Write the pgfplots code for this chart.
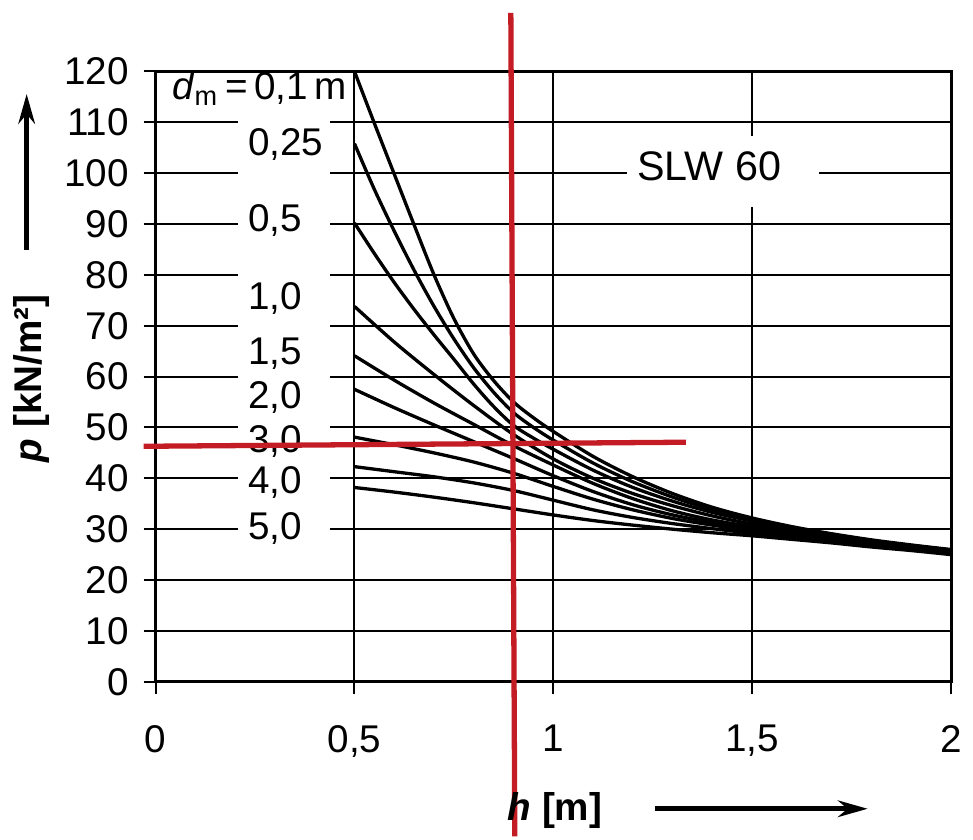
\documentclass[border=0pt]{standalone}
\usepackage{fontspec}
\setmainfont{Liberation Sans}
\usepackage{pgfplots}
\pgfplotsset{compat=1.18}
\usetikzlibrary{arrows.meta}
\definecolor{redline}{RGB}{196,28,36}
\newcommand{\lbl}{\fontsize{11.7}{14}\selectfont}
\pgfplotsset{curve/.style={black, no markers, line width=1pt, smooth, tension=0.5}}

\begin{document}
\begin{tikzpicture}
\begin{axis}[
  scale only axis, width=240.9pt, height=184.8pt,
  xmin=0, xmax=2, ymin=0, ymax=120,
  xtick={0,0.5,1,1.5,2}, xticklabels={0,{0,5},1,{1,5},2},
  ytick={0,10,...,120},
  grid=major, major grid style={black, line width=0.6pt},
  axis line style={black, line width=1pt},
  tick pos=left, tick align=outside, major tick length=3.6pt,
  tick style={black, line width=0.6pt},
  ticklabel style={font=\lbl},
  xticklabel style={yshift=-6pt},
  yticklabel style={xshift=-1pt},
  /pgf/number format/assume math mode=true,
  clip=false,
  xlabel={\textbf{\textit{h} [m]}},
  ylabel={\textbf{\textit{p} [kN/m²]}},
  xlabel style={at={(axis description cs:0.502,-0.211)}, anchor=center, font=\lbl},
  ylabel style={at={(axis description cs:-0.156,0.497)}, anchor=center, font=\lbl},
]
% d_m = 0,1
\addplot[curve] coordinates {(0.5,120) (0.55,109.8) (0.6,99.8) (0.65,89.8) (0.7,80) (0.75,71.4) (0.8,64.4) (0.85,59.2) (0.9,55) (0.95,51.9) (1.0,49.2) (1.1,44.3) (1.2,40.3) (1.3,37) (1.4,34.3) (1.5,32.2) (1.6,30.5) (1.7,29.1) (1.8,27.9) (1.9,26.9) (2.0,26.0)};
% 0,25
\addplot[curve] coordinates {(0.5,105.8) (0.55,96.8) (0.6,88.6) (0.65,80.9) (0.7,73.8) (0.75,67.4) (0.8,61.7) (0.85,56.9) (0.9,52.9) (0.95,50) (1.0,47.5) (1.1,43) (1.2,39.3) (1.3,36.3) (1.4,33.8) (1.5,31.9) (1.6,30.3) (1.7,29) (1.8,27.8) (1.9,26.8) (2.0,25.9)};
% 0,5
\addplot[curve] coordinates {(0.5,90.2) (0.55,84.2) (0.6,78.5) (0.65,73.2) (0.7,68.2) (0.75,63.4) (0.8,58.5) (0.85,54.1) (0.9,50.4) (0.95,47.9) (1.0,45.7) (1.1,41.6) (1.2,38.2) (1.3,35.5) (1.4,33.3) (1.5,31.6) (1.6,30.1) (1.7,28.8) (1.8,27.7) (1.9,26.7) (2.0,25.8)};
% 1,0
\addplot[curve] coordinates {(0.5,73.8) (0.6,66.8) (0.7,60.4) (0.8,54.3) (0.9,48.6) (1.0,43.8) (1.1,40) (1.2,37) (1.3,34.6) (1.4,32.6) (1.5,31) (1.6,29.7) (1.7,28.5) (1.8,27.4) (1.9,26.5) (2.0,25.6)};
% 1,5
\addplot[curve] coordinates {(0.5,64.1) (0.6,59.3) (0.7,54.8) (0.8,50.6) (0.9,46.4) (1.0,42.6) (1.1,39) (1.2,36) (1.3,33.6) (1.4,31.8) (1.5,30.5) (1.6,29.4) (1.7,28.3) (1.8,27.3) (1.9,26.4) (2.0,25.5)};
% 2,0
\addplot[curve] coordinates {(0.5,57.5) (0.6,53.9) (0.7,50.5) (0.8,47.2) (0.9,43.9) (1.0,40.5) (1.1,37.4) (1.2,34.8) (1.3,32.8) (1.4,31.3) (1.5,30.1) (1.6,29.1) (1.7,28.1) (1.8,27.2) (1.9,26.3) (2.0,25.4)};
% 3,0
\addplot[curve] coordinates {(0.5,48.1) (0.6,46.6) (0.7,45) (0.8,43.2) (0.9,41) (1.0,38.4) (1.1,35.9) (1.2,33.8) (1.3,32.1) (1.4,30.8) (1.5,29.7) (1.6,28.8) (1.7,27.9) (1.8,27) (1.9,26.2) (2.0,25.3)};
% 4,0
\addplot[curve] coordinates {(0.5,42.3) (0.6,41.3) (0.7,40.3) (0.8,39.1) (0.9,37.6) (1.0,35.7) (1.1,33.8) (1.2,32.3) (1.3,31.1) (1.4,30.1) (1.5,29.2) (1.6,28.4) (1.7,27.6) (1.8,26.8) (1.9,26) (2.0,25.2)};
% 5,0
\addplot[curve] coordinates {(0.5,38.2) (0.6,37.3) (0.7,36.3) (0.8,35.2) (0.9,34) (1.0,32.8) (1.1,31.7) (1.2,30.8) (1.3,30) (1.4,29.3) (1.5,28.7) (1.6,28) (1.7,27.3) (1.8,26.5) (1.9,25.8) (2.0,25.0)};

% white patches behind the labels
\fill[white] (axis cs:0.206,25) rectangle (axis cs:0.438,113);
\fill[white] (axis cs:1.184,93.4) rectangle (axis cs:1.667,107.4);

\begin{scope}[every node/.style={font=\lbl, inner sep=0pt, anchor=base west}]
\node at (axis cs:0.04,114.5) {\textit{d}\textsubscript{m}\,=\,0,1\,m};
\node at (axis cs:0.231,103.4) {0,25};
\node at (axis cs:0.231,88.6) {0,5};
\node at (axis cs:0.231,73.1) {1,0};
\node at (axis cs:0.231,62.3) {1,5};
\node at (axis cs:0.231,53.8) {2,0};
\node at (axis cs:0.231,45.0) {3,0};
\node at (axis cs:0.231,37.0) {4,0};
\node at (axis cs:0.231,27.9) {5,0};
\node[font=\fontsize{12.5}{15}\selectfont] at (axis cs:1.209,98.6) {SLW 60};
\end{scope}

% reading lines
\addplot[redline, line width=1.6pt, sharp plot, no markers] coordinates {(0.893,131.5) (0.903,-30.4)};
\addplot[redline, line width=1.6pt, sharp plot, no markers] coordinates {(-0.03,46.3) (1.333,47.1)};

% axis arrows
\draw[line width=1.5pt, -{Stealth[length=9pt,width=5pt]}] (axis description cs:-0.162,0.707) -- (axis description cs:-0.162,0.963);
\draw[line width=1.5pt, -{Stealth[length=9pt,width=5pt]}] (axis description cs:0.628,-0.208) -- (axis description cs:0.895,-0.208);

\path (axis description cs:-0.1955,1.117) (axis description cs:1.016,-0.253);
\end{axis}
\end{tikzpicture}
\end{document}
